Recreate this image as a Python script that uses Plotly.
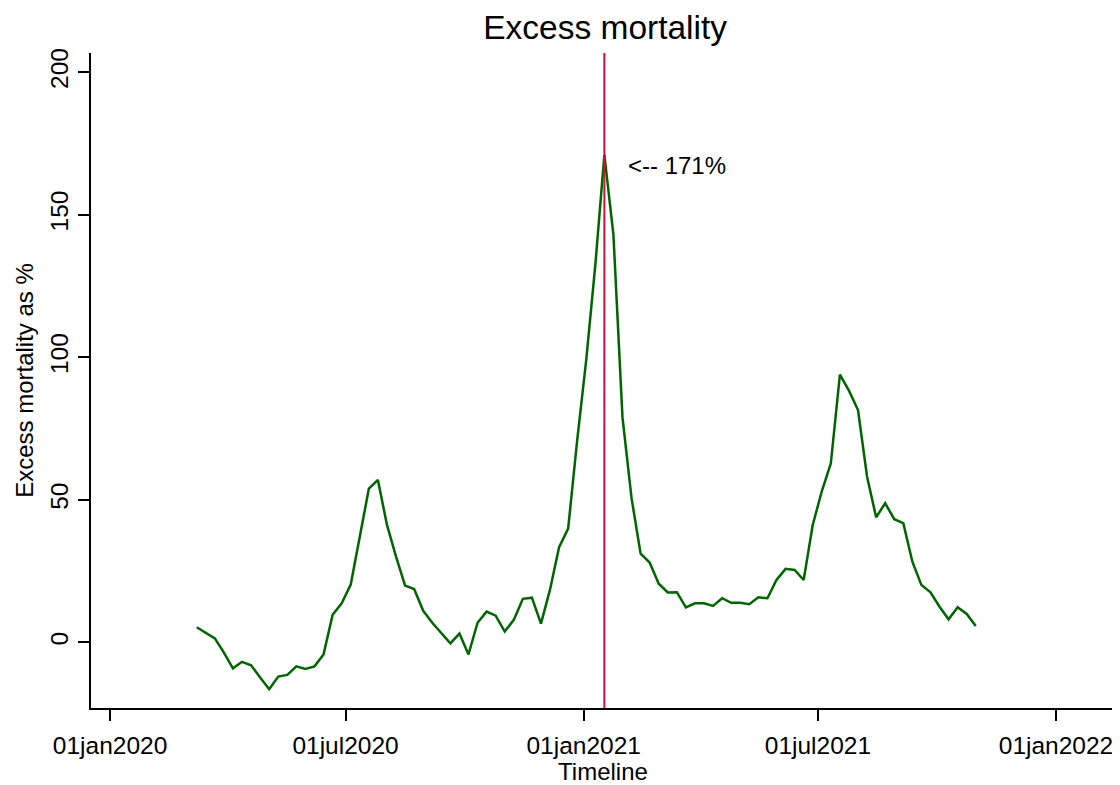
import plotly.graph_objects as go
import pandas as pd

start_date = "2020-03-08"
excess_pct = [
    5.3, 3.4, 1.4, -3.6, -9.1, -6.8, -8.0, -12.3, -16.4, -12.0,
    -11.4, -8.4, -9.3, -8.4, -4.2, 9.7, 13.7, 20.3, 37.1, 53.9,
    57.0, 41.2, 30.1, 19.9, 18.7, 11.1, 6.9, 3.4, -0.3, 3.1,
    -4.2, 6.9, 10.8, 9.4, 3.8, 7.9, 15.3, 15.7, 6.6, 18.5,
    33.4, 39.9, 70.9, 99.2, 132.4, 171.0, 142.9, 78.9, 50.6, 31.1,
    28.0, 20.6, 17.5, 17.6, 12.3, 13.7, 13.7, 12.8, 15.5, 13.9,
    13.9, 13.4, 15.8, 15.5, 21.9, 25.8, 25.4, 21.9, 41.2, 53.0,
    62.8, 93.9, 88.3, 81.5, 58.1, 43.9, 48.8, 43.2, 41.8, 28.3,
    20.1, 17.6, 12.5, 8.1, 12.3, 10.0, 5.8,
]
dates = pd.date_range(start_date, periods=len(excess_pct), freq="7D")

peak_date = "2021-01-17"
peak_label = "<-- 171%"
label_date = "2021-02-02 12:00"
label_y = 167.4

x_tickvals = ["2020-01-01", "2020-07-01", "2021-01-01", "2021-07-01", "2022-01-01"]
x_ticktext = ["01jan2020", "01jul2020", "01jan2021", "01jul2021", "01jan2022"]
y_tickvals = [0, 50, 100, 150, 200]

FONT = "Liberation Sans, Arial, sans-serif"
FS = 24.5

fig = go.Figure()
fig.add_trace(go.Scatter(
    x=dates, y=excess_pct, mode="lines",
    line=dict(color="#006400", width=2.5),
    showlegend=False, hoverinfo="skip",
))

fig.add_shape(type="line", xref="x", yref="paper",
              x0=peak_date, x1=peak_date, y0=0, y1=1,
              line=dict(color="#d0103a", width=2))

fig.add_annotation(x=label_date, y=label_y, xref="x", yref="y",
                   text=peak_label, showarrow=False, xanchor="left",
                   yanchor="middle", font=dict(size=24, color="black", family=FONT))

fig.update_layout(
    width=1112, height=777,
    paper_bgcolor="white", plot_bgcolor="white",
    margin=dict(l=83, r=5, t=45, b=77, autoexpand=False),
    font=dict(family=FONT, color="black"),
    title=dict(text="Excess mortality", x=0.537, xanchor="center",
               y=0.975, yanchor="middle",
               font=dict(size=33.5, family=FONT, color="black")),
    xaxis=dict(
        range=["2019-12-17 07:00", "2022-02-15 14:00"],
        tickvals=x_tickvals, ticktext=x_ticktext,
        ticks="outside", ticklen=11, tickwidth=1.5, tickcolor="black",
        ticklabelstandoff=4,
        showline=True, linecolor="black", linewidth=1.5,
        showgrid=False, zeroline=False,
        tickfont=dict(size=FS, family=FONT),
        title=dict(text="Timeline", font=dict(size=24, family=FONT), standoff=0),
    ),
    yaxis=dict(
        range=[-23.0, 206.7],
        tickvals=y_tickvals,
        ticks="outside", ticklen=11, tickwidth=1.5, tickcolor="black",
        showline=True, linecolor="black", linewidth=1.5,
        showgrid=False, zeroline=False,
        tickangle=-90,
        tickfont=dict(size=FS, family=FONT),
        title=dict(text="Excess mortality as %", font=dict(size=24, family=FONT), standoff=6),
    ),
)

fig.write_html("out.html")
